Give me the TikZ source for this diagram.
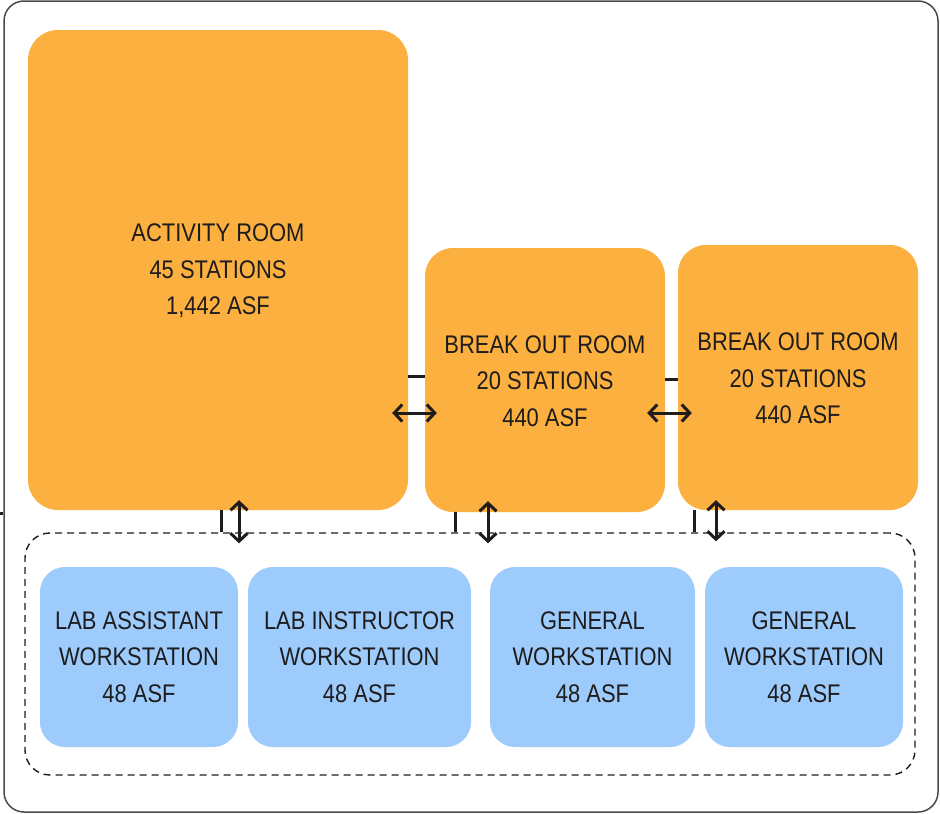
\documentclass[tikz,border=0pt]{standalone}
\usepackage{fontspec}
\setmainfont{Liberation Sans}[FakeStretch=0.86]
\usetikzlibrary{arrows.meta,calc}
\definecolor{roomorange}{HTML}{FBB040}
\definecolor{deskblue}{HTML}{9CCBFC}
\definecolor{inkdark}{HTML}{1E1C1D}
\definecolor{framegray}{HTML}{4A4A4A}
\begin{document}
\begin{tikzpicture}[x=1pt,y=-1pt,
  label text/.style={text=inkdark,font=\fontsize{25.5}{36.5}\selectfont,align=center,inner sep=0pt},
  roombox/.style={label text,fill=roomorange,rounded corners=30pt},
  deskbox/.style={label text,fill=deskblue,rounded corners=25pt,minimum height=180pt},
  dbl/.style={{Straight Barb[length=8pt,width=17pt,line width=3pt]}-{Straight Barb[length=8pt,width=17pt,line width=3pt]},line width=3pt,draw=inkdark},
  stub/.style={line width=3pt,draw=inkdark}]
\useasboundingbox (0,0) rectangle (940,814);

% outer frame
\node[draw=framegray,line width=1.5pt,rounded corners=20pt,minimum width=934pt,minimum height=811pt,inner sep=0pt] (frame) at (471,406.5) {};

% rooms
\node[roombox,minimum width=380pt,minimum height=480pt] (act) at (218,270) {\rule{0pt}{20pt}ACTIVITY ROOM\\45 STATIONS\\1,442 ASF};
\node[roombox,rounded corners=28pt,minimum width=240pt,minimum height=264pt] (brk1) at (545,380) {\rule{0pt}{20pt}BREAK OUT ROOM\\20 STATIONS\\440 ASF};
\node[roombox,rounded corners=28pt,minimum width=240pt,minimum height=265pt] (brk2) at (798,377.5) {\rule{0pt}{20pt}BREAK OUT ROOM\\20 STATIONS\\440 ASF};

% workstation group
\node[draw=inkdark,line width=1.4pt,dash pattern=on 7pt off 5pt,rounded corners=25pt,minimum width=890pt,minimum height=242pt,inner sep=0pt] (grp) at (470,654) {};
\node[deskbox,minimum width=198pt] (la) at (139,657) {LAB ASSISTANT\\WORKSTATION\\48 ASF};
\node[deskbox,minimum width=223pt] (li) at (359.5,657) {LAB INSTRUCTOR\\WORKSTATION\\48 ASF};
\node[deskbox,minimum width=205pt] (g1) at (592.5,657) {GENERAL\\WORKSTATION\\48 ASF};
\node[deskbox,minimum width=198pt] (g2) at (804,657) {GENERAL\\WORKSTATION\\48 ASF};

% room to room links
\draw[stub] (act.east |- 0,376) -- (brk1.west |- 0,376);
\draw[dbl] ($(act.east |- brk1.center)+(-16,33)$) -- ($(brk1.west)+(12,33)$);
\draw[stub] (brk1.east |- 0,379) -- (brk2.west |- 0,379);
\draw[dbl] ($(brk1.east |- brk2.center)+(-18,35.5)$) -- ($(brk2.west)+(14,35.5)$);

% room to workstation links
\draw[stub] (221,0 |- act.south) -- (221,0 |- grp.north);
\draw[dbl] ($(239,0 |- act.south)+(0,-10)$) -- ($(239,0 |- grp.north)+(0,11)$);
\draw[stub] (455,0 |- brk1.south) -- (455,0 |- grp.north);
\draw[dbl] ($(488,0 |- brk1.south)+(0,-11)$) -- ($(488,0 |- grp.north)+(0,11)$);
\draw[stub] (694,0 |- brk2.south) -- (694,0 |- grp.north);
\draw[dbl] ($(716,0 |- brk2.south)+(0,-10)$) -- ($(716,0 |- grp.north)+(0,9)$);

% edge mark on the frame
\draw[stub] (frame.west |- 0,513) -- ++(-4,0);
\end{tikzpicture}
\end{document}
